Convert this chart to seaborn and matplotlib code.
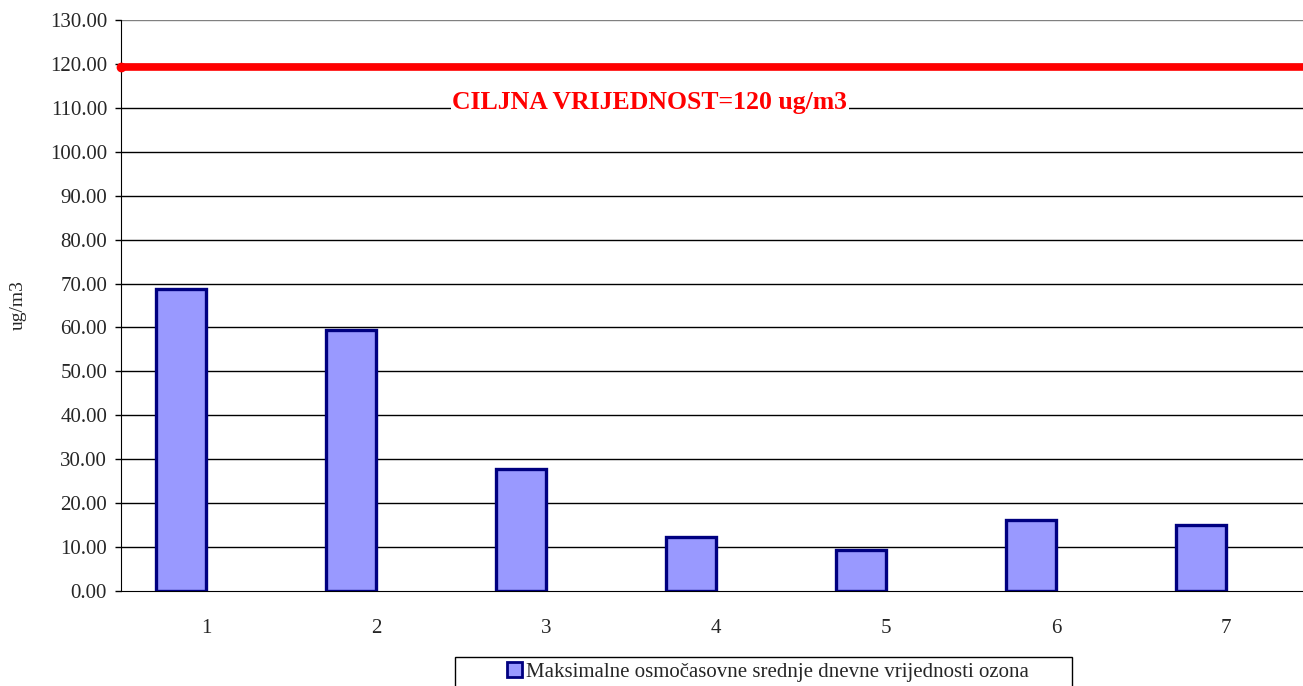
import pandas as pd
import matplotlib.pyplot as plt
import seaborn as sns
from matplotlib.patches import Patch, Rectangle

# podaci
kategorije = ['1', '2', '3', '4', '5', '6', '7']
vrijednosti = [68.8, 59.4, 27.8, 12.3, 9.3, 16.2, 15.0]
naziv_serije = 'Maksimalne osmočasovne srednje dnevne vrijednosti ozona'
ciljna_vrijednost = 119.4
natpis_cilja = 'CILJNA VRIJEDNOST=120 ug/m3'
ytickovi = [0, 10, 20, 30, 40, 50, 60, 70, 80, 90, 100, 110, 120, 130]

boja_stupca = '#9999FF'
boja_ruba = '#000080'


def main():
    sns.set_style('white')
    plt.rcParams['font.family'] = ['Liberation Serif', 'DejaVu Serif']

    df = pd.DataFrame({'mjesto': kategorije, 'vrijednost': vrijednosti, 'serija': naziv_serije})
    # druga (prazna) serija samo da stupci budu pomaknuti ulijevo kao u Excelu
    prazno = pd.DataFrame({'mjesto': kategorije, 'vrijednost': [0] * len(kategorije), 'serija': 'prazno'})
    df = pd.concat([df, prazno], ignore_index=True)

    fig = plt.figure(figsize=(13.03, 6.86), dpi=100)
    ax = fig.add_axes([121 / 1303, 95 / 686, 1190 / 1303, 571 / 686])

    sns.barplot(data=df, x='mjesto', y='vrijednost', hue='serija',
                hue_order=[naziv_serije, 'prazno'],
                palette={naziv_serije: boja_stupca, 'prazno': 'white'},
                width=0.59, edgecolor=boja_ruba, linewidth=2.4, saturation=1,
                legend=False, ax=ax, zorder=3)
    for p in ax.patches:
        if p.get_height() == 0:
            p.set_visible(False)

    ax.set_xlim(-0.5, len(kategorije) - 0.5)
    ax.set_ylim(0, 130)
    ax.set_yticks(ytickovi)
    ax.set_yticklabels(['%.2f' % v for v in ytickovi], fontsize=15)

    for v in ytickovi[1:-1]:
        ax.axhline(v, color='black', lw=1.0, zorder=1)
    ax.axhline(130, color='#808080', lw=1.0, zorder=1)

    ax.axhline(ciljna_vrijednost, color='#FF0000', lw=5.5, zorder=4)
    ax.plot([-0.5], [ciljna_vrijednost], 'o', color='#FF0000', ms=6, zorder=4, clip_on=False)

    ax.text(0.4445, 0.856, natpis_cilja, transform=ax.transAxes, color='#FF0000',
            fontsize=18.5, fontweight='bold', ha='center', va='center', zorder=5,
            bbox=dict(facecolor='white', edgecolor='none', pad=1))

    # x os: crtice između kategorija
    ax.set_xticks([i - 0.5 for i in range(len(kategorije) + 1)], minor=True)
    ax.tick_params(axis='x', which='minor', length=6, width=1, color='black', direction='out')
    ax.tick_params(axis='x', which='major', length=0, pad=20, labelsize=15)
    ax.tick_params(axis='y', which='major', length=4, width=1, color='black',
                   direction='out', pad=6, left=True)

    ax.set_xlabel('')
    ax.set_ylabel('')
    for s in ['top', 'right']:
        ax.spines[s].set_visible(False)
    ax.spines['left'].set_color('black')
    ax.spines['bottom'].set_color('black')

    fig.text(18 / 1303, 1 - 305 / 686, 'ug/m3', rotation=90, ha='center', va='center', fontsize=14)

    # okvir legende (kao u Excelu, odrezan na dnu)
    okvir = Rectangle((455 / 1303, -0.05), (1072 - 455) / 1303, 0.05 + (686 - 657) / 686,
                      transform=fig.transFigure, facecolor='white', edgecolor='black', lw=1.0)
    fig.patches.append(okvir)

    ruka = Patch(facecolor=boja_stupca, edgecolor=boja_ruba, linewidth=2)
    fig.legend([ruka], [naziv_serije], loc='center',
               bbox_to_anchor=(768 / 1303, 1 - 672 / 686), fontsize=15,
               frameon=False, handlelength=0.7, handleheight=0.7, handletextpad=0.2,
               borderpad=0, borderaxespad=0)

    fig.savefig('out.png', dpi=100)


if __name__ == '__main__':
    main()
